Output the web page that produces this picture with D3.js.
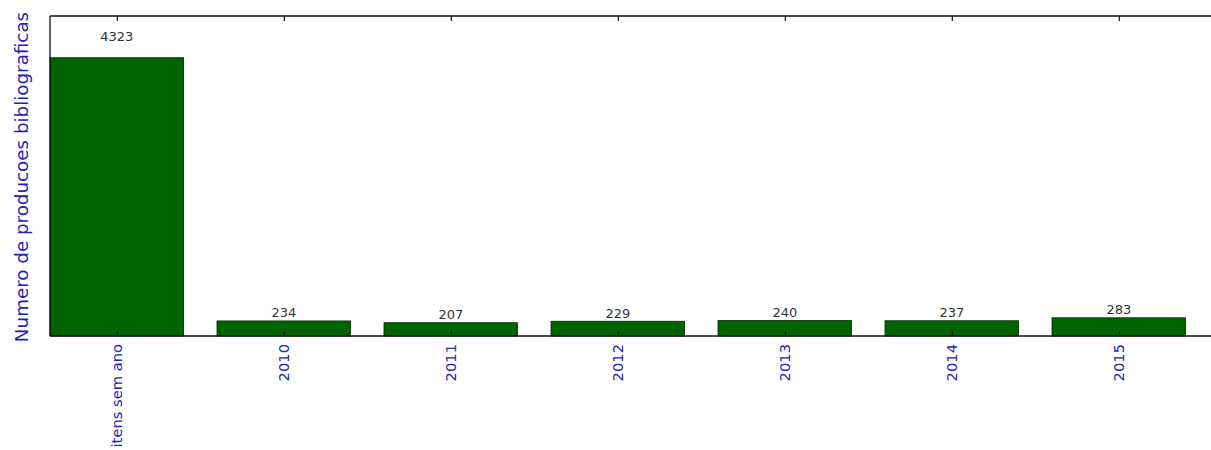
<!DOCTYPE html>
<html>
<head>
<meta charset="utf-8">
<script src="https://cdn.jsdelivr.net/npm/d3@7"></script>
<style>
  body { margin: 0; background: #fff; }
  svg { display: block; }
</style>
</head>
<body>
<div id="chart"></div>
<script>
// data
const categories = ['itens sem ano', '2010', '2011', '2012', '2013', '2014', '2015']
const counts = [4323, 234, 207, 229, 240, 237, 283]
const yLabel = 'Numero de producoes bibliograficas'

const width = 1211
const height = 450
const margin = {top: 16, left: 50, bottom: 336}

const svg = d3.select('#chart').append('svg')
    .attr('width', width)
    .attr('height', height)

// x in category units, like matplotlib bar positions (width 0.8, xlim starts at -0.4)
const step = 167
const x = d3.scaleLinear()
    .domain([-0.4, 7])
    .range([margin.left, margin.left + 7.4 * step])

const y = d3.scaleLinear()
    .domain([0, d3.max(counts) * 1.15])
    .range([margin.bottom, margin.top])

const data = categories.map((c, i) => ({cat: c, i: i, v: counts[i]}))

// bars
svg.selectAll('rect.bar')
    .data(data)
    .enter().append('rect')
    .attr('class', 'bar')
    .attr('x', d => x(d.i - 0.4))
    .attr('width', x(0.4) - x(-0.4))
    .attr('y', d => y(d.v))
    .attr('height', d => y(0) - y(d.v))
    .attr('fill', '#006400')
    .attr('stroke', '#002a00')
    .attr('stroke-width', 0.8)

// value labels, placed at 1.05 * height (bottom aligned, so baseline sits above the descent)
svg.selectAll('text.val')
    .data(data)
    .enter().append('text')
    .attr('class', 'val')
    .attr('x', d => x(d.i))
    .attr('y', d => y(d.v * 1.05) - 3)
    .attr('text-anchor', 'middle')
    .attr('font-family', 'DejaVu Sans')
    .attr('font-size', 13)
    .attr('fill', '#333')
    .text(d => d.v)

// spines: left, top, bottom (right one falls outside the window)
const frame = svg.append('g')
    .attr('stroke', '#111')
    .attr('stroke-width', 1.3)
    .attr('fill', 'none')
frame.append('path')
    .attr('d', `M${x(-0.4)},${y.range()[0]}V${y.range()[1]}`)
frame.append('path')
    .attr('d', `M${x(-0.4)},${y.range()[1]}H${x(7)}`)
frame.append('path')
    .attr('d', `M${x(-0.4)},${y.range()[0]}H${x(7)}`)

// inward ticks on top and bottom
const xAxisBottom = d3.axisBottom(x)
    .tickValues(d3.range(categories.length))
    .tickFormat((d, i) => categories[i])
    .tickSizeInner(-5)
    .tickSizeOuter(0)

const gx = svg.append('g')
    .attr('transform', `translate(0,${margin.bottom})`)
    .call(xAxisBottom)
gx.select('.domain').remove()
gx.selectAll('.tick line').attr('stroke', '#111').attr('stroke-width', 1.2)
gx.selectAll('.tick text')
    .attr('transform', 'rotate(-90)')
    .attr('x', -8)
    .attr('y', 0)
    .attr('dy', '0.35em')
    .attr('text-anchor', 'end')
    .attr('font-family', 'DejaVu Sans')
    .attr('font-size', 14.7)
    .attr('fill', '#2424b0')

const gxTop = svg.append('g')
    .attr('transform', `translate(0,${margin.top})`)
    .call(d3.axisTop(x)
        .tickValues(d3.range(categories.length))
        .tickFormat('')
        .tickSizeInner(-5)
        .tickSizeOuter(0))
gxTop.select('.domain').remove()
gxTop.selectAll('.tick line').attr('stroke', '#111').attr('stroke-width', 1.2)

// y label
svg.append('text')
    .attr('transform', `translate(28,${(margin.top + margin.bottom) / 2 + 1}) rotate(-90)`)
    .attr('text-anchor', 'middle')
    .attr('font-family', 'DejaVu Sans')
    .attr('font-size', 18.3)
    .attr('fill', '#2424b0')
    .text(yLabel)
</script>
</body>
</html>
